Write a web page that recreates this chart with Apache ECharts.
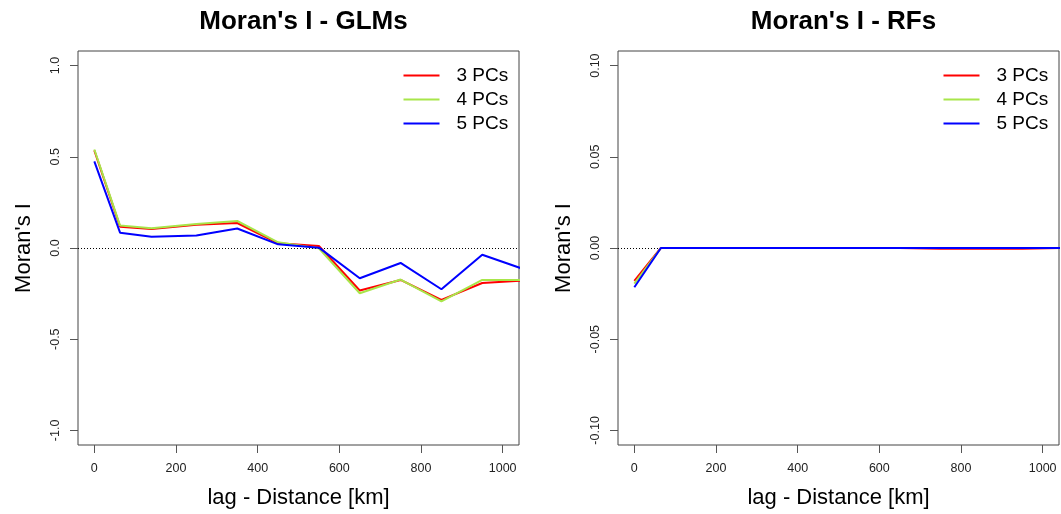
<!DOCTYPE html>
<html>
<head>
<meta charset="utf-8">
<script src="https://cdn.jsdelivr.net/npm/echarts@6/dist/echarts.min.js"></script>
<style>
html,body{margin:0;padding:0;background:#fff;}
#chart{width:1061px;height:514px;}
</style>
</head>
<body>
<div id="chart"></div>
<script>
// ---- data ----
const seriesNames = ['3 PCs', '4 PCs', '5 PCs'];
const lagsGLM = [0, 63, 140, 250, 350, 450, 550, 650, 750, 850, 950, 1050];
const lagsRF  = [0, 65, 140, 250, 350, 450, 550, 650, 750, 850, 950, 1050];
const glm3 = [0.535, 0.117, 0.104, 0.127, 0.137, 0.026, 0.011, -0.233, -0.175, -0.284, -0.192, -0.179];
const glm4 = [0.540, 0.123, 0.108, 0.132, 0.148, 0.031, -0.002, -0.248, -0.173, -0.292, -0.175, -0.175];
const glm5 = [0.475, 0.084, 0.062, 0.069, 0.107, 0.020, 0.002, -0.166, -0.082, -0.226, -0.037, -0.115];
const rf3 = [-0.0180, 0, 0, 0, 0, 0, 0, 0, -0.0004, -0.0004, -0.0004, 0];
const rf4 = [-0.0195, 0, 0, 0, 0, 0, 0, 0, 0, 0, 0, 0];
const rf5 = [-0.0215, 0, 0, 0, 0, 0, 0, 0, 0, 0, 0, 0];
const xTicks = [0, 200, 400, 600, 800, 1000];
const glmTicksY = [-1, -0.5, 0, 0.5, 1];
const rfTicksY = [-0.10, -0.05, 0, 0.05, 0.10];
const titles = ["Moran's I - GLMs", "Moran's I - RFs"];
const xTitle = 'lag - Distance [km]';
const yTitle = "Moran's I";
const colors = ['#FF0000', '#A8E64A', '#0000FF'];

const FONT = 'Liberation Sans, Arial, sans-serif';
const zip = (xs, ys) => xs.map((x, i) => [x, ys[i]]);

const grids = [
  {left: 78, top: 51, width: 441, height: 394, show: true, borderColor: '#444', borderWidth: 1, backgroundColor: 'transparent'},
  {left: 618, top: 51, width: 441, height: 394, show: true, borderColor: '#444', borderWidth: 1, backgroundColor: 'transparent'}
];

function xAxis(gi) {
  return {
    type: 'value', gridIndex: gi, min: -40, max: 1040, position: 'bottom',
    name: xTitle, nameLocation: 'middle', nameGap: 42,
    nameTextStyle: {fontFamily: FONT, fontSize: 22, color: '#000'},
    axisLine: {show: false, onZero: false},
    axisTick: {show: true, inside: false, length: 8, customValues: xTicks, lineStyle: {color: '#555'}},
    axisLabel: {show: true, customValues: xTicks, margin: 17, fontFamily: FONT, fontSize: 12.5, color: '#222',
      formatter: v => String(v)},
    splitLine: {show: false}
  };
}
function yAxis(gi, ticks, lim, dec) {
  return {
    type: 'value', gridIndex: gi, min: -lim, max: lim, position: 'left',
    name: yTitle, nameLocation: 'middle', nameGap: 43, nameRotate: 90,
    nameTextStyle: {fontFamily: FONT, fontSize: 22, color: '#000'},
    axisLine: {show: false, onZero: false},
    axisTick: {show: true, inside: false, length: 8, customValues: ticks, lineStyle: {color: '#555'}},
    axisLabel: {show: true, customValues: ticks, rotate: 90, margin: 16, fontFamily: FONT, fontSize: 12.5, color: '#222',
      formatter: v => (Math.abs(v) < 1e-12 ? 0 : v).toFixed(dec)},
    splitLine: {show: false}
  };
}

function mkSeries(name, gi, xs, ys, ci, withZero) {
  const s = {
    name: name, type: 'line', xAxisIndex: gi, yAxisIndex: gi,
    data: zip(xs, ys), symbol: 'none', clip: true,
    lineStyle: {color: colors[ci], width: 2}, itemStyle: {color: colors[ci]},
    z: 3 + ci
  };
  if (withZero) {
    s.markLine = {
      silent: true, symbol: ['none', 'none'], label: {show: false},
      lineStyle: {color: '#000', type: [1, 2], width: 1}, emphasis: {disabled: true},
      data: [{yAxis: 0}]
    };
  }
  return s;
}

function legend(left) {
  return {
    left: left, top: 65.5, orient: 'vertical', padding: 0, itemGap: 4,
    icon: 'rect', itemWidth: 36, itemHeight: 2,
    data: seriesNames,
    textStyle: {fontFamily: FONT, fontSize: 19, color: '#000', lineHeight: 20, padding: [0, 0, 0, 12]}
  };
}

const option = {
  animation: false,
  backgroundColor: '#fff',
  title: [
    {text: titles[0], left: 298.5, top: 4, textAlign: 'center',
     textStyle: {fontFamily: FONT, fontSize: 26, fontWeight: 'bold', color: '#000'}},
    {text: titles[1], left: 838.5, top: 4, textAlign: 'center',
     textStyle: {fontFamily: FONT, fontSize: 26, fontWeight: 'bold', color: '#000'}}
  ],
  legend: [legend(403.5), legend(943.5)],
  grid: grids,
  xAxis: [xAxis(0), xAxis(1)],
  yAxis: [yAxis(0, glmTicksY, 1.08, 1), yAxis(1, rfTicksY, 0.108, 2)],
  series: [
    mkSeries(seriesNames[0], 0, lagsGLM, glm3, 0, true),
    mkSeries(seriesNames[1], 0, lagsGLM, glm4, 1, false),
    mkSeries(seriesNames[2], 0, lagsGLM, glm5, 2, false),
    mkSeries(seriesNames[0], 1, lagsRF, rf3, 0, true),
    mkSeries(seriesNames[1], 1, lagsRF, rf4, 1, false),
    mkSeries(seriesNames[2], 1, lagsRF, rf5, 2, false)
  ]
};

const chart = echarts.init(document.getElementById('chart'), null, {renderer: 'canvas'});
chart.setOption(option);
</script>
</body>
</html>
